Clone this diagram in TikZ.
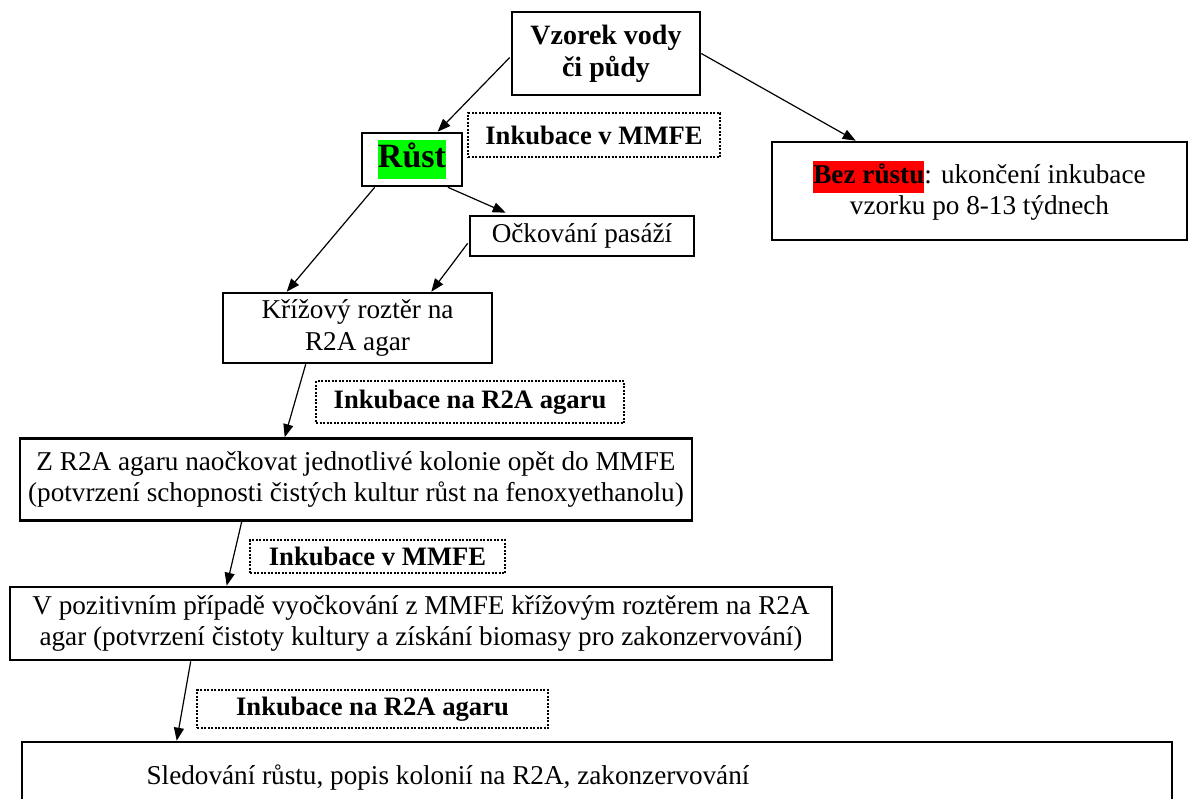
\documentclass[tikz,border=0pt]{standalone}
\usepackage{fontspec}
\setmainfont{Liberation Serif}
\usetikzlibrary{arrows.meta,calc}
\definecolor{hlgreen}{RGB}{0,255,0}
\definecolor{hlred}{RGB}{255,0,0}
\newcommand\hlbox[2]{{\setlength{\fboxsep}{0pt}\colorbox{#1}{\strut #2}}}
\begin{document}
\begin{tikzpicture}[x=1pt,y=-1pt,
  box/.style={draw, line width=2.6pt, inner sep=0pt, align=center, font=\fontsize{27.2}{31.5}\selectfont},
  note/.style={draw, line width=2.2pt, dash pattern=on 2pt off 1.5pt, inner sep=0pt, align=center, font=\fontsize{26.6}{31}\selectfont\bfseries},
  plain/.style={inner sep=0pt, align=center, font=\fontsize{27.2}{31.5}\selectfont},
  arr/.style={line width=1.2pt, -{Triangle[length=13pt,width=10pt]}}]
\useasboundingbox (0,0) rectangle (1188,798);
\clip (0,0) rectangle (1188,798);

\node[box, minimum width=188pt, minimum height=83pt, font=\fontsize{28}{32}\selectfont\bfseries] (vz) at (606,53.5) {Vzorek vody\\či půdy};
\node[box, minimum width=100pt, minimum height=53pt, font=\fontsize{34}{39}\selectfont\bfseries] (rust) at (412,159.5) {\hlbox{hlgreen}{Růst}};
\node[note, minimum width=252pt, minimum height=44pt] (ink1) at (594,135) {Inkubace v MMFE};
\node[box, minimum width=415pt, minimum height=98pt] (bez) at (979.5,191) {\hlbox{hlred}{\bfseries Bez růstu}: ukončení inkubace\\vzorku po 8-13 týdnech};
\node[box, minimum width=224pt, minimum height=40pt] (ock) at (582,236) {Očkování pasáží};
\node[box, minimum width=269pt, minimum height=70pt] (kriz) at (357.5,328) {Křížový roztěr na\\R2A agar};
\node[note, minimum width=308pt, minimum height=42pt] (ink2) at (470,402) {Inkubace na R2A agaru};
\node[box, minimum width=672pt, minimum height=82pt] (zb) at (356,479.5) {Z R2A agaru naočkovat jednotlivé kolonie opět do MMFE\\(potvrzení schopnosti čistých kultur růst na fenoxyethanolu)};
\node[note, minimum width=255pt, minimum height=33pt] (ink3) at (377.5,556.5) {Inkubace v MMFE};
\node[box, minimum width=822pt, minimum height=73pt] (vb) at (421,623.5) {V pozitivním případě vyočkování z MMFE křížovým roztěrem na R2A\\agar (potvrzení čistoty kultury a získání biomasy pro zakonzervování)};
\node[note, minimum width=351pt, minimum height=38pt] (ink4) at (372.5,709) {Inkubace na R2A agaru};
\node[box, minimum width=1150pt, minimum height=72pt] (sb) at (597,778) {};
\node[plain] (sbt) at (448,778) {Sledování růstu, popis kolonií na R2A, zakonzervování};

\draw[arr] ($(vz.west)+(-1,4)$) -- ($(rust.north)!0.5!(rust.north east)$);
\draw[arr] (vz.east) -- ($(bez.north west)+(85,0)$);
\draw[arr] ($(rust.south)!0.7!(rust.south east)$) -- ($(ock.north west)+(37,-2)$);
\draw[arr] ($(rust.south west)+(14,0)$) -- ($(kriz.north west)+(65,0)$);
\draw[arr] ($(ock.south west)+(-1,-14)$) -- ($(kriz.north east)+(-62,0)$);
\draw[arr] ($(kriz.south west)+(84,0)$) -- ($(zb.north west)+(266,0)$);
\draw[arr] ($(zb.south west)+(223,0)$) -- ($(vb.north west)+(218,0)$);
\draw[arr] ($(vb.south west)+(182,0)$) -- ($(sb.north west)+(156,0)$);
\end{tikzpicture}
\end{document}
